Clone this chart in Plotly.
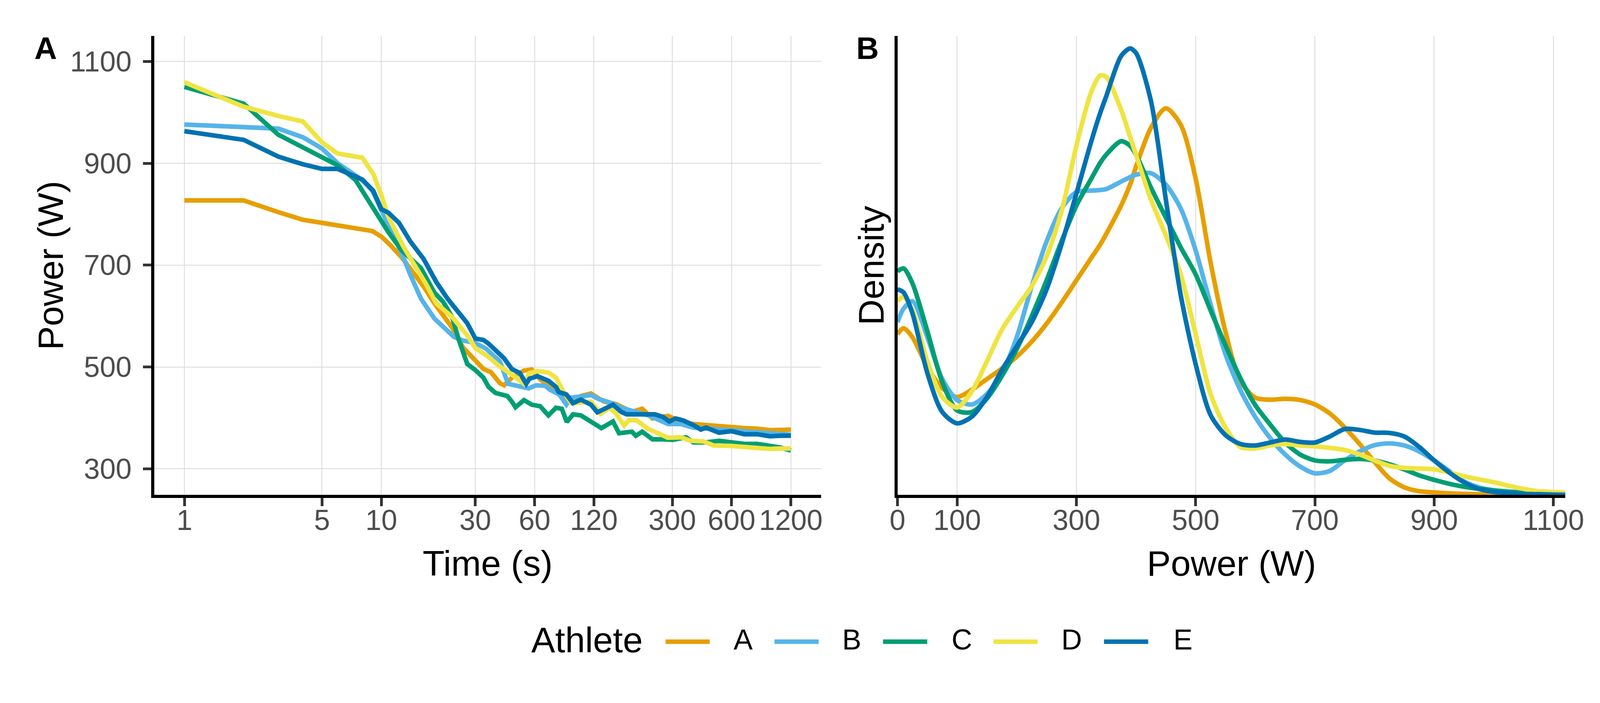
import plotly.graph_objects as go

# ---------------- data ----------------
athletes = ["A", "B", "C", "D", "E"]
colors = ["#E69F00", "#56B4E9", "#009E73", "#F0E442", "#0072B2"]

# Panel A: mean-maximal power (W) versus duration (s)
t_a = [1, 2, 3, 4, 5, 8, 9, 10, 11, 12.7, 14.8, 16.4, 18.6, 20.6, 22.9, 26, 30, 33, 36, 40,
       42, 46, 53, 58, 64, 72, 80, 92, 103, 116, 135, 156, 187, 211, 238, 285, 331, 384, 445, 518,
       599, 696, 810, 940, 1200]
p_a = [827, 827, 804, 789, 783, 771, 767, 756, 741, 715, 682, 658, 625, 601, 577, 538, 511, 496, 490, 468,
       464, 479, 493, 495, 476, 461, 446, 433, 443, 448, 432, 427, 412, 418, 399, 404, 393, 388, 386, 382,
       382, 380, 379, 376, 377]

t_b = [1, 2, 3, 4, 5, 6, 8, 9, 10, 11, 12.7, 14, 15.9, 18.6, 21, 23.4, 26, 30, 34, 40,
       44, 48, 56, 61, 68, 72, 80, 87, 92, 103, 116, 127, 148, 165, 198, 231, 285, 331, 384, 518,
       696, 940, 1200]
p_b = [976, 970, 968, 951, 929, 900, 867, 846, 807, 777, 723, 682, 634, 595, 577, 559, 552, 547, 536, 511,
       467, 464, 458, 464, 463, 455, 446, 426, 440, 442, 445, 437, 429, 420, 412, 404, 388, 388, 381, 377,
       373, 370, 367]

t_c = [1, 2, 3, 4, 5, 6, 7.4, 8.85, 10, 10.85, 12.7, 15.9, 18.6, 20.6, 22.9, 24.6, 27.3, 30, 33, 35,
       38, 43.6, 46, 48, 53, 58, 64, 70.5, 77, 82.5, 87.4, 94, 103, 116, 131, 150, 161, 187, 196, 211,
       238, 269, 302, 352, 384, 445, 518, 599, 696, 810, 940, 1060, 1200]
p_c = [1050, 1017, 956, 932, 913, 896, 867, 819, 789, 765, 729, 694, 646, 628, 598, 556, 506, 494, 479, 461,
       449, 443, 432, 421, 435, 426, 423, 405, 420, 418, 392, 407, 405, 392, 380, 393, 370, 373, 365, 373,
       358, 358, 357, 362, 352, 352, 355, 352, 349, 349, 346, 342, 336]

t_d = [1, 2, 3, 4, 5, 6, 8, 9.1, 10, 10.85, 13, 14.8, 16.8, 19, 22.9, 27.3, 30, 35, 39.6, 46,
       53, 56.5, 62, 70.5, 77, 84, 92, 103, 116, 130, 144, 156, 171, 181, 198, 225, 253, 285, 331, 373,
       432, 485, 599, 696, 810, 940, 1060, 1200]
p_d = [1059, 1011, 993, 982, 941, 919, 911, 879, 837, 795, 735, 700, 664, 625, 598, 562, 537, 520, 502, 485,
       467, 488, 492, 489, 479, 452, 429, 430, 432, 408, 420, 408, 385, 396, 395, 379, 370, 361, 362, 355,
       354, 346, 345, 343, 343, 339, 340, 340]

t_e = [1, 2, 3, 4, 5, 6, 8, 9.1, 10, 10.85, 12.3, 14, 16.4, 19, 21.7, 24.6, 27.3, 30, 33, 35,
       38, 42, 46, 50.5, 54.4, 56.5, 62, 70.5, 77, 79.5, 87, 94, 103, 116, 125, 135, 150, 165, 176, 211,
       245, 269, 290, 312, 341, 384, 419, 445, 518, 599, 696, 810, 940, 1060, 1200]
p_e = [963, 946, 913, 898, 889, 889, 868, 846, 810, 803, 783, 747, 712, 667, 634, 607, 586, 556, 553, 546,
       532, 517, 496, 488, 467, 477, 482, 473, 461, 451, 446, 429, 436, 426, 411, 417, 426, 412, 407, 407,
       407, 402, 393, 399, 395, 386, 377, 381, 371, 374, 368, 368, 364, 365, 365]

# Panel B: power density (arbitrary density units) versus power (W)
power_w = [0, 10, 25, 50, 75, 100, 125, 150, 175, 200, 225, 250, 275, 300, 325, 340, 350, 375, 390, 400,
           425, 450, 475, 500, 525, 550, 575, 600, 625, 650, 675, 700, 725, 750, 775, 800, 825, 850, 875, 900,
           925, 950, 975, 1000, 1025, 1050, 1075, 1100, 1120]
dens_a = [537, 557, 527, 427, 357, 327, 352, 387, 422, 462, 512, 572, 642, 717, 792, 837, 872, 967, 1037, 1097,
          1227, 1292, 1237, 1057, 777, 545, 380, 325, 318, 321, 317, 302, 272, 225, 170, 110, 55, 25, 12, 8,
          5, 3, 2, 1, 1, 0, 0, 0, 0]
dens_b = [577, 622, 647, 527, 387, 317, 302, 337, 407, 527, 697, 847, 957, 1012, 1017, 1019, 1022, 1047, 1062, 1070,
          1075, 1037, 957, 817, 637, 470, 350, 260, 190, 135, 95, 72, 80, 115, 145, 166, 172, 165, 145, 115,
          80, 45, 25, 15, 11, 9, 5, 3, 2]
dens_c = [747, 757, 707, 547, 377, 282, 277, 322, 397, 487, 597, 717, 847, 967, 1057, 1110, 1137, 1182, 1167, 1137,
          1027, 927, 827, 737, 617, 500, 390, 300, 235, 175, 135, 115, 112, 117, 120, 115, 102, 85, 65, 50,
          37, 27, 20, 15, 10, 7, 4, 2, 1]
dens_d = [647, 662, 617, 447, 327, 292, 347, 447, 552, 627, 697, 797, 947, 1167, 1347, 1402, 1397, 1287, 1197, 1137,
          987, 867, 737, 537, 337, 225, 160, 155, 165, 170, 165, 162, 157, 150, 135, 115, 97, 90, 88, 85,
          75, 62, 52, 42, 30, 20, 12, 9, 7]
dens_e = [687, 677, 607, 407, 277, 239, 262, 327, 417, 497, 577, 687, 837, 1007, 1182, 1277, 1332, 1467, 1492, 1477,
          1317, 987, 667, 437, 267, 200, 170, 165, 175, 185, 177, 175, 195, 220, 217, 208, 207, 195, 160, 115,
          75, 42, 20, 10, 6, 3, 2, 1, 0]

time_ticks = [1, 5, 10, 30, 60, 120, 300, 600, 1200]
power_ticks_a = [300, 500, 700, 900, 1100]
power_ticks_b = [0, 100, 300, 500, 700, 900, 1100]

# ---------------- figure ----------------
FONT = "Arial, 'Liberation Sans', sans-serif"
W, H = 4200, 1800          # design frame (positions given in this frame, converted to paper fractions)
K = 0.976                  # size factor for px-based sizes (figure fills the viewport)
LW = 12 * K

times = [t_a, t_b, t_c, t_d, t_e]
powers = [p_a, p_b, p_c, p_d, p_e]
dens = [dens_a, dens_b, dens_c, dens_d, dens_e]

fig = go.Figure()
for name, col, t, p in zip(athletes, colors, times, powers):
    fig.add_trace(go.Scatter(x=t, y=p, mode="lines", name=name, legendgroup=name, showlegend=False,
                             line=dict(color=col, width=LW), xaxis="x", yaxis="y"))
for name, col, d in zip(athletes, colors, dens):
    fig.add_trace(go.Scatter(x=power_w, y=d, mode="lines", name=name, legendgroup=name,
                             showlegend=False,
                             line=dict(color=col, width=LW, shape="spline", smoothing=0.8),
                             xaxis="x2", yaxis="y2"))

PLOT_TOP, PLOT_BOTTOM = 92, 1267
yd = [(H - PLOT_BOTTOM) / H, (H - PLOT_TOP) / H]
xa_dom = [405, 2155]
xb_dom = [2356, 4109]

common_axis = dict(showline=True, linecolor="black", linewidth=8 * K,
                   ticks="outside", ticklen=22 * K, tickwidth=7 * K, tickcolor="#333333",
                   tickfont=dict(family=FONT, size=75 * K, color="#4D4D4D"),
                   gridcolor="#D9D9D9", gridwidth=1.5, zeroline=False, automargin=False)

title_font = dict(family=FONT, size=94 * K, color="black")
mid_y = (H - (PLOT_TOP + PLOT_BOTTOM) / 2) / H
title_y = (H - 1442) / H

shapes = []
annotations = [
    # panel tags
    dict(text="<b>A</b>", x=120 / W, y=(H - 123) / H, xref="paper", yref="paper",
         showarrow=False, xanchor="center", yanchor="middle",
         font=dict(family=FONT, size=82 * K, color="black")),
    dict(text="<b>B</b>", x=2277 / W, y=(H - 123) / H, xref="paper", yref="paper",
         showarrow=False, xanchor="center", yanchor="middle",
         font=dict(family=FONT, size=82 * K, color="black")),
    # axis titles
    dict(text="Time (s)", x=(sum(xa_dom) / 2) / W, y=title_y, xref="paper", yref="paper",
         showarrow=False, xanchor="center", yanchor="middle", font=title_font),
    dict(text="Power (W)", x=(sum(xb_dom) / 2) / W, y=title_y, xref="paper", yref="paper",
         showarrow=False, xanchor="center", yanchor="middle", font=title_font),
    dict(text="Power (W)", x=133 / W, y=mid_y, xref="paper", yref="paper", textangle=-90,
         showarrow=False, xanchor="center", yanchor="middle", font=title_font),
    dict(text="Density", x=2287 / W, y=mid_y, xref="paper", yref="paper", textangle=-90,
         showarrow=False, xanchor="center", yanchor="middle", font=title_font),
]

# legend (guide) in paper coordinates
legend_line_x = [(1747, 1863), (2033, 2149), (2318, 2434), (2608, 2724), (2898, 3014)]
legend_text_x = [1924, 2209, 2496, 2784, 3078]
leg_y = (H - 1643) / H
leg_text_y = (H - 1638) / H
annotations.append(dict(text="Athlete", x=1392 / W, y=leg_text_y, xref="paper", yref="paper",
                        showarrow=False, xanchor="left", yanchor="middle", font=title_font))
for name, col, (x0, x1), tx in zip(athletes, colors, legend_line_x, legend_text_x):
    shapes.append(dict(type="line", xref="paper", yref="paper", x0=x0 / W, x1=x1 / W,
                       y0=leg_y, y1=leg_y, line=dict(color=col, width=12 * K)))
    annotations.append(dict(text=name, x=tx / W, y=leg_text_y, xref="paper", yref="paper",
                            showarrow=False, xanchor="left", yanchor="middle",
                            font=dict(family=FONT, size=75 * K, color="black")))

fig.update_layout(
    autosize=True,
    margin=dict(l=0, r=0, t=0, b=0, pad=0, autoexpand=False),
    paper_bgcolor="white", plot_bgcolor="white",
    font=dict(family=FONT, color="black"),
    showlegend=False,
    xaxis=dict(domain=[xa_dom[0] / W, xa_dom[1] / W], type="log", range=[-0.1528, 3.232],
               tickvals=time_ticks, ticktext=[str(v) for v in time_ticks],
               ticklabelstandoff=-27, anchor="y", **common_axis),
    yaxis=dict(domain=yd, range=[249, 1150], tickvals=power_ticks_a,
               ticklabelstandoff=14, anchor="x", **common_axis),
    xaxis2=dict(domain=[xb_dom[0] / W, xb_dom[1] / W], range=[0, 1120], tickvals=power_ticks_b,
                ticklabelstandoff=-27, anchor="y2", **common_axis),
    yaxis2=dict(domain=yd, range=[0, 1534], showline=True, linecolor="black", linewidth=8 * K,
                showticklabels=False, ticks="", showgrid=False, zeroline=False, automargin=False,
                anchor="x2"),
    shapes=shapes,
    annotations=annotations,
)

fig.write_html(
    "out.html",
    default_width="100vw", default_height="100vh",
    config={"displayModeBar": False, "responsive": True},
    post_script=("document.body.style.margin='0';document.body.style.overflow='hidden';"
                 "Plotly.Plots.resize(document.getElementById('{plot_id}'));"),
)
